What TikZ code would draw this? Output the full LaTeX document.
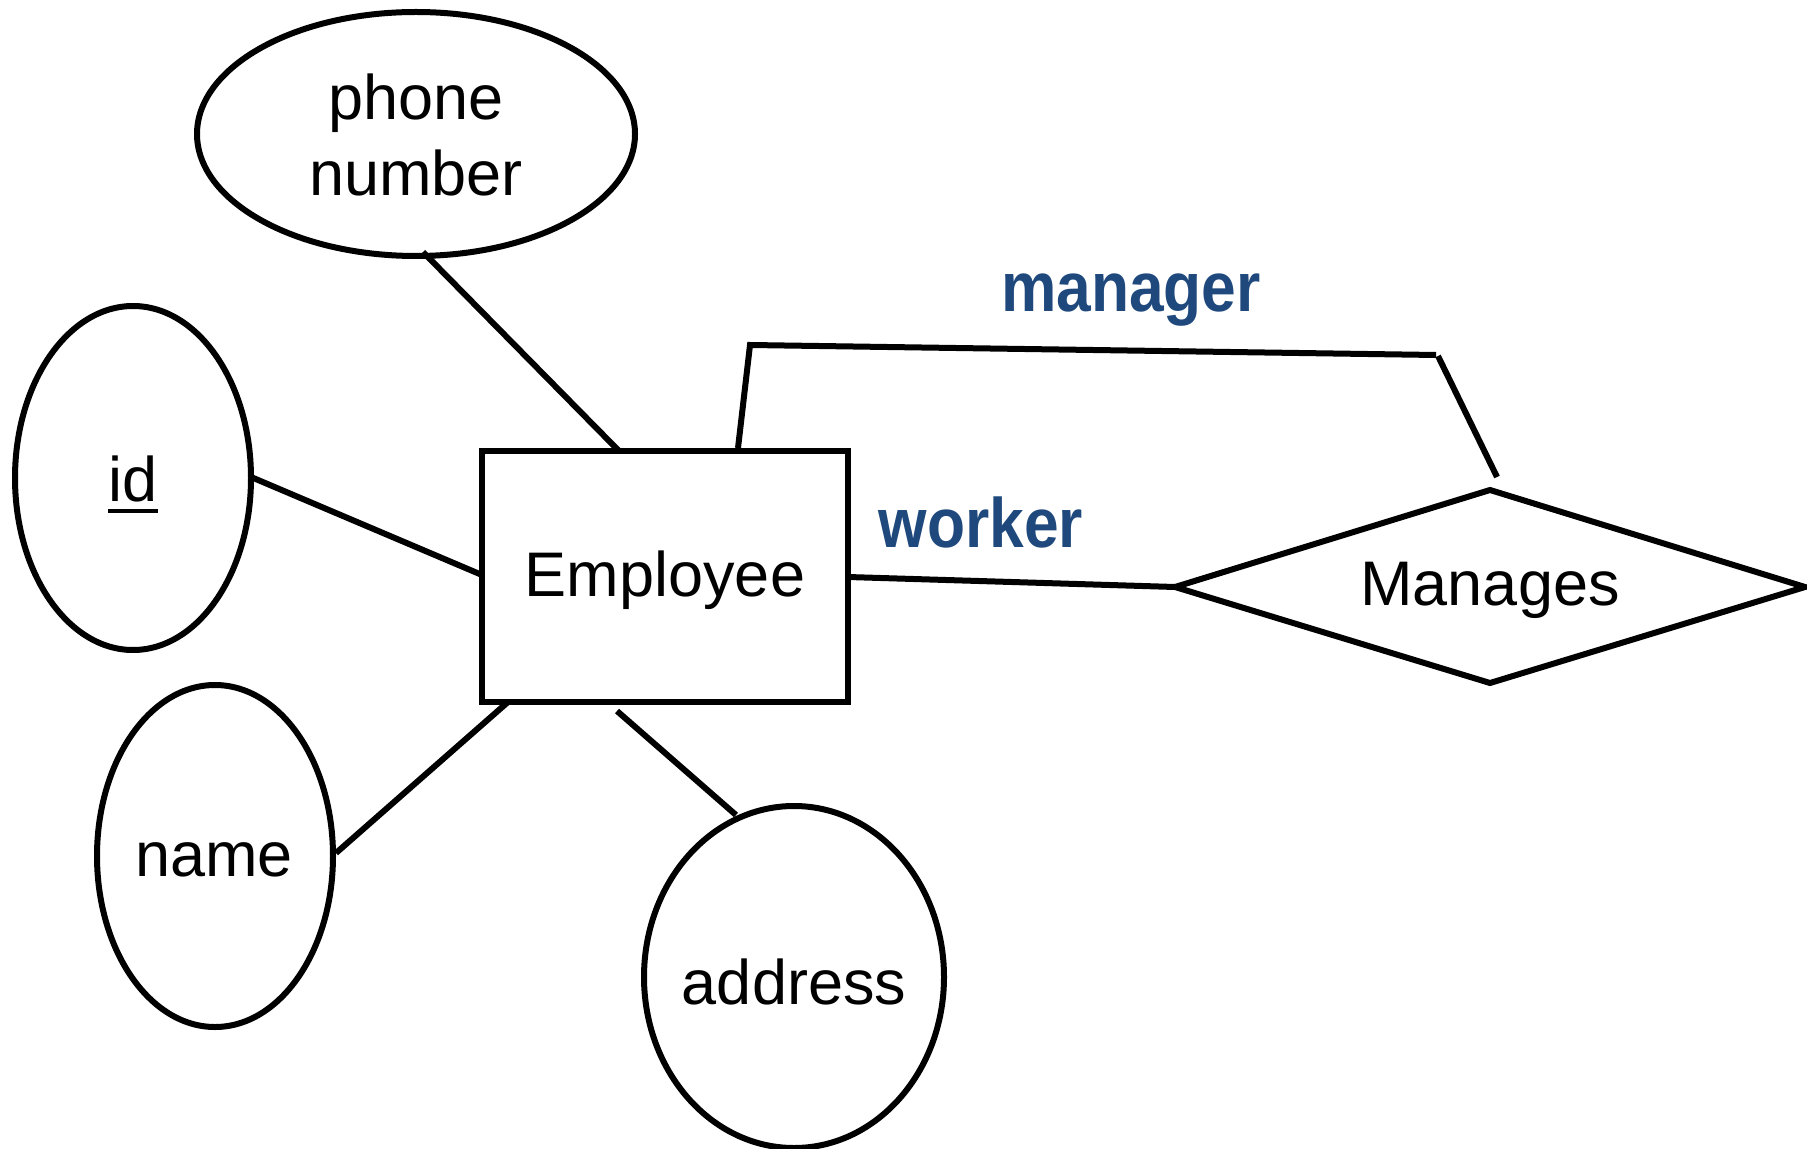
\documentclass[tikz,border=0pt]{standalone}
\usepackage{fontspec}
\setmainfont{Liberation Sans}
\usetikzlibrary{shapes.geometric}
\definecolor{rolecol}{RGB}{31,73,125}
\begin{document}
\begin{tikzpicture}[x=0.5pt,y=-0.5pt,
  ln/.style={line width=3pt,line cap=butt,line join=miter},
  attr/.style={ellipse,draw,line width=3pt,inner sep=0pt},
  lbl/.style={font=\fontsize{31.5}{38}\selectfont,inner sep=0pt,align=center},
  role/.style={font=\fontsize{35}{42}\selectfont\bfseries,text=rolecol,inner sep=0pt,anchor=base,xscale=0.89}]
\useasboundingbox (0,0) rectangle (1807,1149);
% attributes
\node[attr,minimum width=219pt,minimum height=122pt] (phone) at (416,134) {};
\node[lbl,anchor=base] (phonet1) at (416,120) {phone};
\node[lbl,anchor=base] (phonet2) at (416,196) {number};
\node[attr,minimum width=118pt,minimum height=172pt] (id) at (133,478) {};
\node[lbl] (idt) at (133,479) {id};
\coordinate (ulA) at (108,511);
\coordinate (ulB) at (158,511);
\draw[line width=2.2pt] (ulA) -- (ulB);
\node[attr,minimum width=118pt,minimum height=171pt] (name) at (215,856) {};
\node[lbl] (namet) at (214,860) {name};
\node[attr,minimum width=150pt,minimum height=171pt] (addr) at (794,977) {};
\node[lbl] (addrt) at (794,982) {address};
% entity
\node[draw,line width=3pt,minimum width=183pt,minimum height=125.5pt,inner sep=0pt] (emp) at (665,576.5) {};
\node[lbl] (empt) at (665,580) {Employee};
% relationship
\coordinate (dl) at (1175,587);
\coordinate (dt) at (1490,490);
\coordinate (dr) at (1805,587);
\coordinate (db) at (1490,683);
\draw[ln] (dl) -- (dt) -- (dr) -- (db) -- cycle;
\node[lbl] (man) at (1490,590) {Manages};
% connector end points
\coordinate (p1) at (423,252);
\coordinate (p2) at (619,451);
\coordinate (i1) at (251,477);
\coordinate (i2) at (482,575);
\coordinate (n1) at (336,853);
\coordinate (n2) at (508,702);
\coordinate (a1) at (617,711);
\coordinate (a2) at (736,815);
\coordinate (w1) at (848,577);
\coordinate (m1) at (738,448);
\coordinate (m2) at (750,345);
\coordinate (m3) at (1436,355);
\coordinate (m4) at (1438,356);
\coordinate (m5) at (1497,477);
\draw[ln] (p1) -- (p2);
\draw[ln] (i1) -- (i2);
\draw[ln] (n1) -- (n2);
\draw[ln] (a1) -- (a2);
\draw[ln] (w1) -- (dl);
\draw[ln] (m1) -- (m2) -- (m3);
\draw[ln] (m4) -- (m5);
% role labels
\node[role] (mgr) at (1131,312) {manager};
\node[role] (wrk) at (981,547) {worker};
\end{tikzpicture}
\end{document}
